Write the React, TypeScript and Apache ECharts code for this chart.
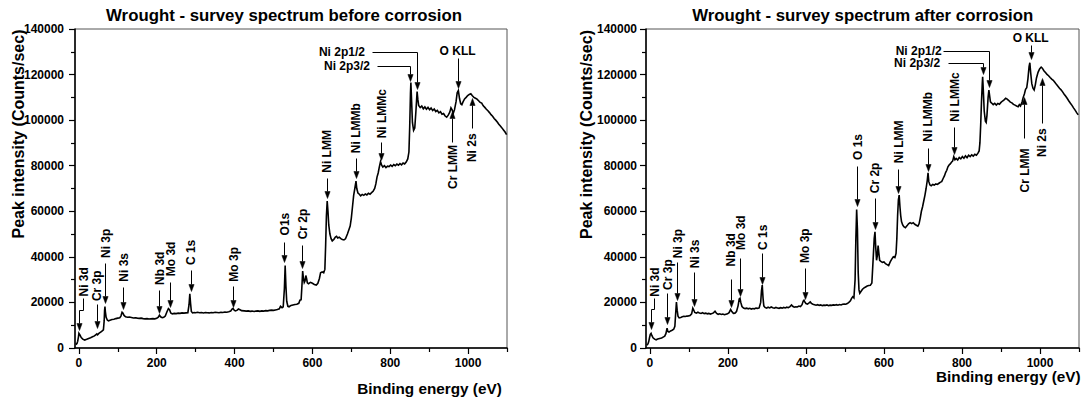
import { useEffect, useRef } from "react";
import * as echarts from "echarts";

// XPS survey spectra of wrought alloy, before and after corrosion
const energyBefore = [
  -8, -5, -3, -1, 0, 1, 3, 6, 10, 15, 20, 25, 30, 35, 40, 44, 46, 48, 52, 56, 60, 63, 65, 66, 67, 68, 70, 73, 76, 80,
  85, 90, 95, 100, 105, 108, 111, 113, 116, 120, 125, 130, 135, 140, 145, 150, 155, 160, 165, 170, 175, 180, 185, 190,
  195, 200, 204, 207, 210, 214, 218, 222, 226, 230, 233, 236, 240, 245, 250, 255, 260, 265, 270, 275, 280, 283, 285,
  287, 289, 292, 296, 300, 305, 310, 315, 320, 325, 330, 335, 340, 345, 350, 355, 360, 365, 370, 375, 380, 385, 390,
  393, 396, 399, 402, 406, 410, 414, 418, 425, 430, 435, 440, 445, 450, 455, 460, 465, 470, 475, 480, 485, 490, 495,
  500, 505, 510, 515, 518, 522, 525, 528, 530, 532, 534, 537, 540, 545, 550, 555, 560, 565, 568, 571, 573, 575, 577,
  579, 581, 583, 585, 587, 590, 595, 600, 605, 610, 614, 618, 621, 625, 629, 632, 634, 636, 638, 640, 642, 645, 648,
  651, 655, 659, 662, 665, 669, 673, 677, 681, 685, 690, 694, 697, 700, 703, 706, 709, 712, 714, 717, 720, 724, 728,
  732, 736, 740, 744, 748, 752, 756, 760, 763, 766, 769, 772, 775, 778, 781, 785, 789, 793, 797, 801, 805, 809, 813,
  817, 821, 825, 829, 833, 837, 841, 845, 848, 850, 852, 853, 855, 857, 860, 863, 866, 869, 871, 873, 877, 881, 885,
  889, 893, 897, 901, 905, 909, 913, 917, 921, 925, 929, 933, 937, 941, 945, 949, 953, 956, 959, 962, 965, 969, 972,
  975, 978, 981, 984, 987, 991, 995, 999, 1003, 1007, 1011, 1015, 1019, 1023, 1027, 1031, 1035, 1039, 1043, 1047,
  1051, 1055, 1059, 1063, 1067, 1071, 1075, 1079, 1083, 1087, 1091, 1095, 1099,
];
const countsBefore = [
  1500, 2000, 3000, 5000, 6400, 6600, 5600, 4600, 3900, 3500, 3800, 4200, 4500, 4900, 5300, 5900, 6200, 5800, 6500,
  7000, 7500, 8000, 12000, 16500, 18200, 16000, 13500, 12300, 11900, 12200, 12500, 12600, 12900, 13100, 13300, 14000,
  15700, 15400, 14300, 13700, 13500, 13600, 13400, 13200, 13300, 13100, 13000, 13100, 12900, 12800, 12900, 12700,
  12800, 12900, 12800, 13000, 13500, 14400, 13700, 13300, 13500, 14000, 15800, 17300, 16800, 15400, 15000, 15200,
  15100, 15300, 15200, 15400, 15300, 15400, 15500, 19000, 23800, 19500, 16000, 15400, 15600, 15500, 15700, 15500,
  15600, 15400, 15600, 15500, 15400, 15600, 15500, 15700, 15600, 15500, 15700, 15600, 15800, 15700, 15900, 16200,
  17000, 17400, 16600, 16300, 16500, 17100, 16800, 16400, 16300, 16200, 16300, 16100, 16200, 16000, 16200, 16300,
  16100, 16300, 16200, 16400, 16300, 16500, 16600, 16500, 16700, 16900, 17200, 18300, 17700, 18100, 26000, 36200,
  27000, 20500, 18300, 18100, 18700, 18900, 19100, 19200, 19600, 21000, 21200, 27000, 33800, 30500, 28700, 29400,
  31800, 30500, 28600, 28200, 28800, 28400, 27900, 27600, 28400, 30500, 33000, 33400, 33000, 34500, 45000, 58000,
  64500, 60000, 54000, 50000, 48000, 47000, 47600, 48700, 49000, 48300, 48600, 48000, 47600, 47400, 47900, 50000,
  52000, 53500, 57000, 62000, 67000, 70000, 73200, 70000, 68000, 67600, 66800, 67400, 67000, 67600, 67200, 67900,
  67500, 68200, 68800, 70000, 72000, 75000, 76800, 79500, 81800, 80200, 79400, 80000, 79200, 79800, 79600, 80300,
  79700, 80500, 80000, 80700, 80200, 80900, 80400, 81200, 80800, 81600, 83000, 86000, 97000, 112000, 116500, 108000,
  99000, 95500, 96500, 104000, 112500, 109000, 106500, 105500, 106200, 105000, 105800, 104800, 105600, 104600,
  105300, 104200, 104900, 103800, 104300, 103200, 103700, 102600, 102900, 101800, 101300, 102200, 103500, 105400,
  104500, 103000, 104500, 108000, 112000, 113000, 109500, 107200, 106800, 108000, 109300, 110000, 110800, 111300,
  111600, 110700, 110000, 109600, 109200, 108500, 107800, 107500, 106300, 105600, 104800, 104100, 103300, 102400,
  101700, 100700, 100000, 99200, 98200, 97400, 96600, 95700, 94800, 93600,
];

const energyAfter = [
  -8, -5, -3, -1, 1, 3, 5, 8, 12, 16, 20, 25, 30, 35, 38, 41, 44, 46, 49, 53, 57, 61, 64, 66, 68, 70, 72, 75, 79, 83,
  87, 91, 95, 99, 103, 107, 110, 112, 115, 119, 123, 127, 131, 135, 139, 143, 147, 151, 155, 159, 163, 167, 171, 175,
  179, 183, 187, 191, 195, 199, 203, 207, 210, 214, 218, 222, 226, 229, 231, 233, 236, 240, 244, 248, 252, 256, 260,
  264, 268, 272, 276, 280, 284, 286, 288, 290, 292, 295, 299, 303, 307, 311, 315, 319, 323, 327, 331, 335, 339, 343,
  347, 351, 355, 359, 363, 366, 370, 374, 378, 382, 386, 390, 393, 395, 397, 400, 404, 408, 411, 414, 418, 422, 426,
  430, 434, 438, 442, 446, 450, 454, 458, 462, 466, 470, 474, 478, 482, 486, 490, 494, 498, 502, 506, 510, 514, 517,
  520, 523, 526, 528, 530, 532, 534, 536, 538, 541, 545, 549, 553, 557, 561, 565, 569, 572, 575, 577, 579, 581, 583,
  585, 587, 589, 592, 596, 600, 604, 608, 612, 616, 620, 624, 628, 631, 633, 635, 637, 639, 641, 643, 645, 648, 651,
  655, 659, 663, 667, 671, 675, 679, 683, 687, 690, 693, 696, 699, 702, 705, 708, 711, 713, 715, 718, 721, 725, 729,
  733, 737, 741, 745, 748, 752, 755, 758, 761, 764, 767, 770, 773, 776, 779, 782, 785, 789, 793, 797, 801, 805, 809,
  813, 817, 821, 825, 829, 833, 837, 841, 844, 846, 848, 850, 852, 853, 855, 857, 860, 862, 864, 867, 869, 871, 873,
  876, 880, 884, 888, 892, 896, 900, 904, 908, 912, 916, 920, 924, 928, 932, 936, 940, 944, 947, 950, 954, 957, 960,
  963, 966, 969, 972, 974, 976, 979, 982, 985, 988, 991, 995, 999, 1003, 1006, 1010, 1014, 1018, 1022, 1026, 1030,
  1034, 1038, 1042, 1046, 1050, 1054, 1058, 1062, 1066, 1070, 1074, 1078, 1082, 1086, 1090, 1094, 1098,
];
const countsAfter = [
  1200, 1800, 2800, 4500, 6000, 6400, 5500, 4500, 3900, 3600, 3900, 4200, 4400, 4900, 5200, 6300, 8700, 7300, 7000,
  7500, 7800, 8200, 9500, 15000, 20200, 16500, 14000, 13200, 13400, 13700, 13900, 13800, 14000, 14100, 14300, 15000,
  17500, 16800, 15600, 15300, 15700, 15400, 15200, 15500, 15100, 15300, 15000, 15200, 14900, 15100, 15400, 16100,
  15200, 14800, 15000, 14700, 14900, 14600, 14800, 15000, 15500, 16900, 16000, 15200, 15300, 16000, 18500, 21500,
  21800, 20000, 18200, 17500, 17300, 17500, 17200, 17400, 17100, 17300, 17200, 17500, 17400, 17600, 20000, 25000,
  27600, 22000, 18500, 17800, 17500, 17900, 17600, 18000, 17700, 17500, 17800, 17600, 17400, 17700, 17500, 17800,
  17600, 17900, 17700, 18200, 18900, 18300, 17900, 18100, 18000, 18400, 18200, 19000, 20600, 21000, 20200, 19500,
  19300, 19800, 20200, 19600, 19200, 19000, 18800, 19000, 18700, 18900, 18600, 18800, 18700, 18900, 18600, 18800,
  18700, 18900, 18800, 19000, 18800, 19100, 18900, 19200, 19300, 19200, 19500, 20000, 20700, 21800, 22500, 22000,
  30000, 48000, 60800, 52000, 33000, 25500, 24000, 24800, 25800, 26400, 26800, 27200, 27400, 27500, 28500, 38000,
  48000, 51000, 44000, 38500, 40500, 45000, 41500, 38500, 38000, 37600, 37800, 37000, 36600, 36200, 37800, 39000,
  40000, 39700, 41500, 48000, 58000, 65000, 67100, 62000, 58000, 55500, 54000, 53200, 52800, 53600, 54500, 55000,
  54600, 55000, 54300, 53900, 53500, 54500, 57000, 60000, 62000, 64500, 67000, 70000, 73500, 76900, 73000, 71500,
  71200, 71800, 71500, 72000, 71800, 72300, 72800, 73000, 74500, 75500, 77000, 78000, 79500, 80300, 80800, 81500,
  82000, 84000, 82600, 83200, 82500, 83600, 83000, 84000, 83300, 84300, 83500, 84600, 84000, 84800, 84200, 85000,
  84600, 85500, 86500, 90000, 98000, 108000, 116000, 119000, 112000, 104000, 99500, 99000, 102000, 110000, 113200,
  110500, 108000, 107500, 106800, 107400, 106600, 107300, 107000, 107800, 108400, 108900, 109600, 109200, 108600,
  107900, 107600, 106900, 106600, 106200, 105900, 106800, 106200, 108000, 110000, 111500, 113500, 114200, 118000,
  123500, 125200, 121000, 116000, 114000, 113200, 115500, 118500, 121000, 122500, 123300, 122800, 121700, 120900,
  120100, 119500, 118700, 118000, 117500, 116600, 115700, 114900, 114000, 113300, 112400, 111400, 110500, 109500,
  108400, 107400, 106500, 105400, 104400, 103300, 102300,
];

const xMajorTicks = [0, 200, 400, 600, 800, 1000];
const xMinorTicks = [100, 300, 500, 700, 900, 1100];
const panelTitles = [
  "Wrought - survey spectrum before corrosion",
  "Wrought - survey spectrum after corrosion",
];
const xAxisTitle = "Binding energy (eV)";
const yAxisTitle = "Peak intensity (Counts/sec)";

// Peak labels: leader path in (eV, counts) ending at the arrow tip, label anchor, rotation
type Note = {
  label: string;
  path: number[][];
  at: number[];
  vertical: boolean;
  align: "left" | "right" | "center";
};

const notesBefore: Note[] = [
  { label: "Ni 3d", path: [[9.5, 21800], [9.5, 16700], [1, 16700], [1, 7900]], at: [13, 22600], vertical: true, align: "left" },
  { label: "Cr 3p", path: [[46, 19300], [46, 8700]], at: [47, 20600], vertical: true, align: "left" },
  { label: "Ni 3p", path: [[66.7, 37300], [66.7, 19700]], at: [69, 39500], vertical: true, align: "left" },
  { label: "Ni 3s", path: [[114.5, 26800], [114.5, 16900]], at: [116, 29100], vertical: true, align: "left" },
  { label: "Nb 3d", path: [[207, 25500], [207, 15300]], at: [208, 27700], vertical: true, align: "left" },
  { label: "Mo 3d", path: [[235, 29000], [235, 18100]], at: [236, 31500], vertical: true, align: "left" },
  { label: "C 1s", path: [[287, 34200], [287, 25000]], at: [289, 36400], vertical: true, align: "left" },
  { label: "Mo 3p", path: [[397, 27200], [397, 18200]], at: [398, 29100], vertical: true, align: "left" },
  { label: "O1s", path: [[528, 46700], [528, 37600]], at: [530, 49400], vertical: true, align: "left" },
  { label: "Cr 2p", path: [[573, 45200], [573, 35100]], at: [577, 47700], vertical: true, align: "left" },
  { label: "Ni LMM", path: [[637, 74500], [637, 65800]], at: [638, 76900], vertical: true, align: "left" },
  { label: "Ni LMMb", path: [[711, 83300], [711, 74500]], at: [713, 85500], vertical: true, align: "left" },
  { label: "Ni LMMc", path: [[776, 90500], [776, 82600]], at: [780, 92000], vertical: true, align: "left" },
  { label: "Ni 2p1/2", path: [[752, 130000], [870, 130000], [870, 113500]], at: [735, 130000], vertical: false, align: "right" },
  { label: "Ni 2p3/2", path: [[767, 123800], [852, 123800], [852, 117200]], at: [748, 123800], vertical: false, align: "right" },
  { label: "O KLL", path: [[973, 127200], [973, 114200]], at: [973, 130300], vertical: false, align: "center" },
  { label: "Cr LMM", path: [[959, 90500], [959, 104000]], at: [960, 89100], vertical: true, align: "right" },
  { label: "Ni 2s", path: [[1009, 96400], [1009, 109500]], at: [1010, 94200], vertical: true, align: "right" },
];

const notesAfter: Note[] = [
  { label: "Ni 3d", path: [[10.3, 21900], [10.3, 17100], [2, 17100], [2, 8200]], at: [13, 22500], vertical: true, align: "left" },
  { label: "Cr 3p", path: [[44, 24000], [44, 10600]], at: [46, 25500], vertical: true, align: "left" },
  { label: "Ni 3p", path: [[68.5, 37900], [68.5, 21200]], at: [71, 39400], vertical: true, align: "left" },
  { label: "Ni 3s", path: [[113, 33500], [113, 18600]], at: [115, 35000], vertical: true, align: "left" },
  { label: "Nb 3d", path: [[208, 30300], [208, 17800]], at: [208.5, 35800], vertical: true, align: "left" },
  { label: "Mo 3d", path: [[231.5, 39500], [231.5, 22700]], at: [233, 43000], vertical: true, align: "left" },
  { label: "C 1s", path: [[288, 41600], [288, 28200]], at: [290, 43000], vertical: true, align: "left" },
  { label: "Mo 3p", path: [[397, 35100], [397, 21600]], at: [398, 37300], vertical: true, align: "left" },
  { label: "O 1s", path: [[531, 79900], [531, 62200]], at: [533, 82500], vertical: true, align: "left" },
  { label: "Cr 2p", path: [[577, 65800], [577, 52200]], at: [578, 67900], vertical: true, align: "left" },
  { label: "Ni LMM", path: [[637, 78400], [637, 68000]], at: [639, 81100], vertical: true, align: "left" },
  { label: "Ni LMMb", path: [[712, 87600], [712, 77800]], at: [713, 90500], vertical: true, align: "left" },
  { label: "Ni LMMc", path: [[779, 97100], [779, 85000]], at: [781, 99300], vertical: true, align: "left" },
  { label: "Ni 2p1/2", path: [[752, 130500], [870, 130500], [870, 114500]], at: [748, 130500], vertical: false, align: "right" },
  { label: "Ni 2p3/2", path: [[765, 125000], [853, 125000], [853, 120300]], at: [744, 125000], vertical: false, align: "right" },
  { label: "O KLL", path: [[976, 133000], [976, 126800]], at: [976, 135900], vertical: false, align: "center" },
  { label: "Cr LMM", path: [[960, 92000], [960, 110000]], at: [961, 87600], vertical: true, align: "right" },
  { label: "Ni 2s", path: [[1004, 98600], [1004, 118400]], at: [1005, 96400], vertical: true, align: "right" },
];

const FONT = "Arial, 'Liberation Sans', Helvetica, sans-serif";

function pairs(xs: number[], ys: number[]) {
  return xs.map((x, i) => [x, ys[i]]);
}

function grids() {
  return [
    { left: 75, top: 29, width: 432, height: 319, show: true, borderColor: "#555", borderWidth: 1 },
    { left: 646, top: 29, width: 433, height: 319, show: true, borderColor: "#555", borderWidth: 1 },
  ];
}

function mainX(gridIndex: number) {
  return {
    type: "value",
    gridIndex,
    position: "bottom",
    min: -10,
    max: 1100,
    axisLine: { show: true, onZero: false, lineStyle: { color: "#000", width: 1.5 } },
    axisTick: { show: true, length: 6, customValues: xMajorTicks, lineStyle: { color: "#000", width: 1.2 } },
    axisLabel: {
      show: true,
      customValues: xMajorTicks,
      margin: 9,
      color: "#000",
      fontSize: 12,
      fontWeight: "bold",
      fontFamily: FONT,
      formatter: (v: number) => String(v),
    },
    splitLine: { show: false },
  };
}

function minorX(gridIndex: number) {
  return {
    type: "value",
    gridIndex,
    position: "bottom",
    min: -10,
    max: 1100,
    axisLine: { show: false, onZero: false },
    axisTick: { show: true, length: 4, customValues: xMinorTicks, lineStyle: { color: "#000", width: 1.2 } },
    axisLabel: { show: false },
    splitLine: { show: false },
  };
}

function yAxisFor(gridIndex: number, margin: number) {
  return {
    type: "value",
    gridIndex,
    min: 0,
    max: 140000,
    interval: 20000,
    axisLine: { show: true, onZero: false, lineStyle: { color: "#000", width: 1.5 } },
    axisTick: { show: true, length: 6, lineStyle: { color: "#000", width: 1.2 } },
    minorTick: { show: true, splitNumber: 2, length: 4, lineStyle: { color: "#000", width: 1.2 } },
    axisLabel: {
      margin,
      color: "#000",
      fontSize: 12,
      fontWeight: "bold",
      fontFamily: FONT,
      formatter: (v: number) => String(v),
    },
    splitLine: { show: false },
    minorSplitLine: { show: false },
  };
}

function seriesFor(xAxisIndex: number, yAxisIndex: number, xs: number[], ys: number[]) {
  return {
    type: "line",
    xAxisIndex,
    yAxisIndex,
    data: pairs(xs, ys),
    showSymbol: false,
    symbol: "none",
    silent: true,
    lineStyle: { color: "#000", width: 1.6, join: "miter" },
  };
}

function textEl(text: string, x: number, y: number, size: number, align: string, rotation = 0) {
  return {
    type: "text",
    x,
    y,
    rotation,
    silent: true,
    style: {
      text,
      fill: "#000",
      fontSize: size,
      fontWeight: "bold",
      fontFamily: FONT,
      align,
      verticalAlign: "middle",
    },
  };
}

function noteElements(chart: echarts.ECharts, seriesIndex: number, notes: Note[]) {
  const out: any[] = [];
  const toPx = (p: number[]) => chart.convertToPixel({ seriesIndex }, p) as number[];
  for (const n of notes) {
    const pts = n.path.map((p) => {
      const q = toPx(p);
      return [Math.round(q[0]) + 0.5, Math.round(q[1]) + 0.5];
    });
    const tip = pts[pts.length - 1];
    const prev = pts[pts.length - 2];
    const dx = tip[0] - prev[0];
    const dy = tip[1] - prev[1];
    const len = Math.hypot(dx, dy) || 1;
    const ux = dx / len;
    const uy = dy / len;
    const head = 7;
    const half = 2.6;
    const base = [tip[0] - ux * head, tip[1] - uy * head];
    const linePts = pts.slice(0, -1).concat([base]);
    out.push({
      type: "polyline",
      silent: true,
      shape: { points: linePts },
      style: { stroke: "#000", lineWidth: 1, fill: "none" },
    });
    out.push({
      type: "polygon",
      silent: true,
      shape: {
        points: [
          tip,
          [base[0] - uy * half, base[1] + ux * half],
          [base[0] + uy * half, base[1] - ux * half],
        ],
      },
      style: { fill: "#000", stroke: "#000", lineWidth: 0.5 },
    });
    const a = toPx(n.at);
    out.push(textEl(n.label, a[0], a[1], 12, n.align, n.vertical ? Math.PI / 2 : 0));
  }
  return out;
}

export default function App() {
  const ref = useRef<HTMLDivElement>(null);

  useEffect(() => {
    if (!ref.current) return;
    const chart = echarts.init(ref.current, null, { renderer: "svg" });
    chart.setOption({
      animation: false,
      backgroundColor: "#fff",
      grid: grids(),
      xAxis: [mainX(0), minorX(0), mainX(1), minorX(1)],
      yAxis: [yAxisFor(0, 11), yAxisFor(1, 9)],
      series: [
        seriesFor(0, 0, energyBefore, countsBefore),
        seriesFor(2, 1, energyAfter, countsAfter),
      ],
    });

    const graphics: any[] = [
      textEl(panelTitles[0], 284, 15, 16.8, "center"),
      textEl(panelTitles[1], 862.7, 15, 16.8, "center"),
      textEl(yAxisTitle, 18, 134, 16, "center", Math.PI / 2),
      textEl(yAxisTitle, 586.7, 134.5, 16, "center", Math.PI / 2),
      textEl(xAxisTitle, 429.5, 388, 15.3, "center"),
      textEl(xAxisTitle, 1008.3, 376.7, 15.3, "center"),
      ...noteElements(chart, 0, notesBefore),
      ...noteElements(chart, 1, notesAfter),
    ];
    chart.setOption({ graphic: graphics });

    return () => chart.dispose();
  }, []);

  return (
    <div
      ref={ref}
      style={{ position: "absolute", left: 0, top: 0, width: 1084, height: 400, background: "#fff" }}
    />
  );
}
